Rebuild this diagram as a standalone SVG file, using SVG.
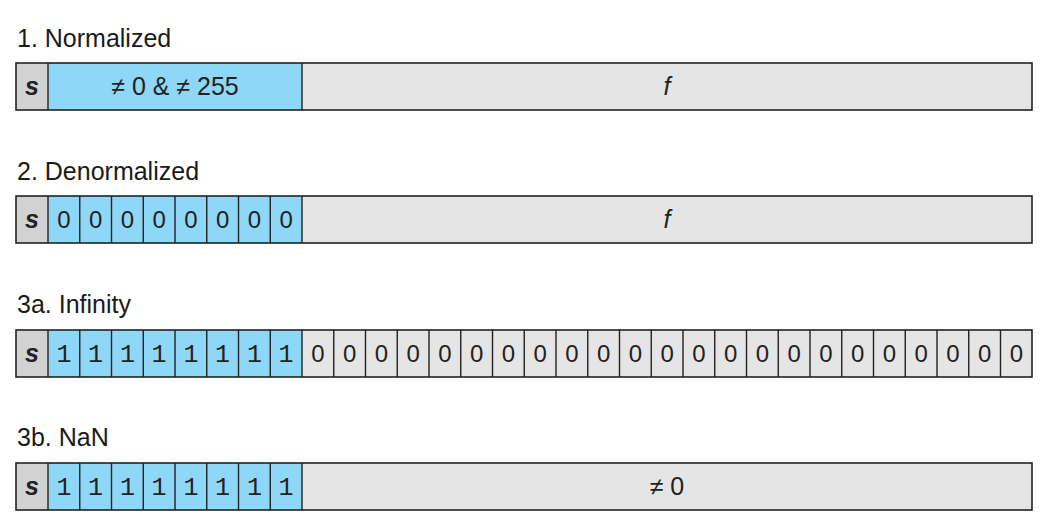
<svg xmlns="http://www.w3.org/2000/svg" width="1058" height="532" viewBox="0 0 1058 532">
<style>
.title{font-family:"Liberation Sans",Arial,sans-serif;font-size:25px;fill:#1a1a1a}
.sgn{fill:#d2d2d2}
.exp{fill:#8ed7f6}
.frac{fill:#e5e5e6}
.box{fill:none;stroke:#222;stroke-width:1.6}
.div{stroke:#222;stroke-width:1.4}
.s{font-family:"Liberation Sans",Arial,sans-serif;font-style:italic;font-weight:bold;font-size:25px;fill:#222;text-anchor:middle}
.f{font-family:"Liberation Sans",Arial,sans-serif;font-style:italic;font-size:25px;fill:#222;text-anchor:middle}
.lbl{font-family:"Liberation Sans",Arial,sans-serif;font-size:25px;fill:#222;text-anchor:middle}
.one{font-family:"Liberation Mono","DejaVu Sans Mono",monospace;font-size:25px;fill:#222;text-anchor:middle}
.zero{font-family:"Liberation Sans",Arial,sans-serif;font-size:24px;fill:#222;text-anchor:middle}
</style>
<rect width="1058" height="532" fill="#ffffff"/>

<g id="normalized">
<text class="title" x="17" y="47">1. Normalized</text>
<rect class="sgn" x="16" y="63" width="32" height="47"/>
<rect class="exp" x="48" y="63" width="254" height="47"/>
<rect class="frac" x="302" y="63" width="730" height="47"/>
<rect class="box" x="16" y="63" width="1016" height="47"/>
<line class="div" x1="48" y1="63" x2="48" y2="110"/>
<line class="div" x1="302" y1="63" x2="302" y2="110"/>
<text class="s" x="32" y="95">s</text>
<text class="lbl" x="175" y="95">≠ 0 &amp; ≠ 255</text>
<text class="f" x="667" y="95">f</text>
</g>

<g id="denormalized">
<text class="title" x="17" y="180">2. Denormalized</text>
<rect class="sgn" x="16" y="196" width="32" height="47"/>
<rect class="exp" x="48" y="196" width="254" height="47"/>
<rect class="frac" x="302" y="196" width="730" height="47"/>
<rect class="box" x="16" y="196" width="1016" height="47"/>
<path class="div" d="M48 196V243M79.75 196V243M111.5 196V243M143.25 196V243M175 196V243M206.75 196V243M238.5 196V243M270.25 196V243M302 196V243"/>
<text class="s" x="32" y="228">s</text>
<text class="zero" y="228"><tspan x="63.9">0</tspan><tspan x="95.6">0</tspan><tspan x="127.4">0</tspan><tspan x="159.1">0</tspan><tspan x="190.9">0</tspan><tspan x="222.6">0</tspan><tspan x="254.4">0</tspan><tspan x="286.1">0</tspan></text>
<text class="f" x="667" y="228">f</text>
</g>

<g id="infinity">
<text class="title" x="17" y="313">3a. Infinity</text>
<rect class="sgn" x="16" y="330" width="32" height="47"/>
<rect class="exp" x="48" y="330" width="254" height="47"/>
<rect class="frac" x="302" y="330" width="730" height="47"/>
<rect class="box" x="16" y="330" width="1016" height="47"/>
<path class="div" d="M48 330V377M79.75 330V377M111.5 330V377M143.25 330V377M175 330V377M206.75 330V377M238.5 330V377M270.25 330V377M302 330V377M333.75 330V377M365.5 330V377M397.25 330V377M429 330V377M460.75 330V377M492.5 330V377M524.25 330V377M556 330V377M587.75 330V377M619.5 330V377M651.25 330V377M683 330V377M714.75 330V377M746.5 330V377M778.25 330V377M810 330V377M841.75 330V377M873.5 330V377M905.25 330V377M937 330V377M968.75 330V377M1000.5 330V377"/>
<text class="s" x="32" y="362">s</text>
<text class="one" y="362"><tspan x="63.9">1</tspan><tspan x="95.6">1</tspan><tspan x="127.4">1</tspan><tspan x="159.1">1</tspan><tspan x="190.9">1</tspan><tspan x="222.6">1</tspan><tspan x="254.4">1</tspan><tspan x="286.1">1</tspan></text>
<text class="zero" y="362"><tspan x="317.9">0</tspan><tspan x="349.6">0</tspan><tspan x="381.4">0</tspan><tspan x="413.1">0</tspan><tspan x="444.9">0</tspan><tspan x="476.6">0</tspan><tspan x="508.4">0</tspan><tspan x="540.1">0</tspan><tspan x="571.9">0</tspan><tspan x="603.6">0</tspan><tspan x="635.4">0</tspan><tspan x="667.1">0</tspan><tspan x="698.9">0</tspan><tspan x="730.6">0</tspan><tspan x="762.4">0</tspan><tspan x="794.1">0</tspan><tspan x="825.9">0</tspan><tspan x="857.6">0</tspan><tspan x="889.4">0</tspan><tspan x="921.1">0</tspan><tspan x="952.9">0</tspan><tspan x="984.6">0</tspan><tspan x="1016.4">0</tspan></text>
</g>

<g id="nan">
<text class="title" x="17" y="446">3b. NaN</text>
<rect class="sgn" x="16" y="463" width="32" height="47"/>
<rect class="exp" x="48" y="463" width="254" height="47"/>
<rect class="frac" x="302" y="463" width="730" height="47"/>
<rect class="box" x="16" y="463" width="1016" height="47"/>
<path class="div" d="M48 463V510M79.75 463V510M111.5 463V510M143.25 463V510M175 463V510M206.75 463V510M238.5 463V510M270.25 463V510M302 463V510"/>
<text class="s" x="32" y="495">s</text>
<text class="one" y="495"><tspan x="63.9">1</tspan><tspan x="95.6">1</tspan><tspan x="127.4">1</tspan><tspan x="159.1">1</tspan><tspan x="190.9">1</tspan><tspan x="222.6">1</tspan><tspan x="254.4">1</tspan><tspan x="286.1">1</tspan></text>
<text class="lbl" x="667" y="495">≠ 0</text>
</g>
</svg>
